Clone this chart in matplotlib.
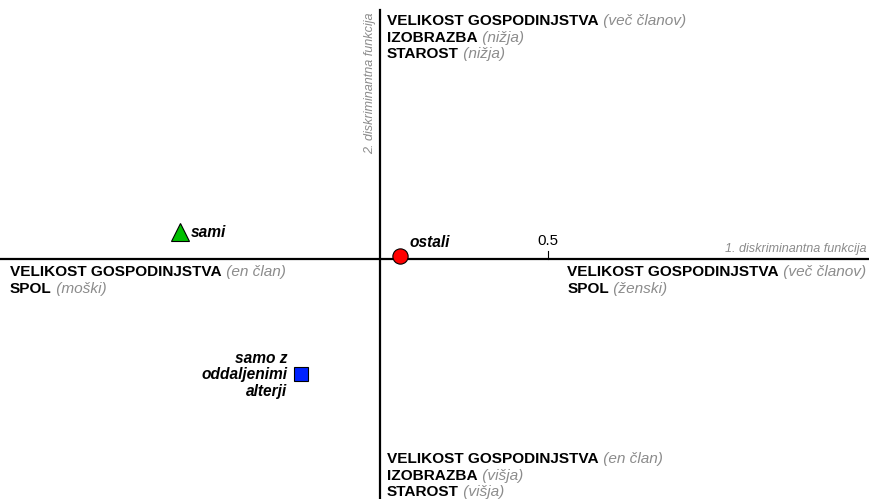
import matplotlib
matplotlib.use('Agg')
import matplotlib.pyplot as plt

plt.rcParams['font.family'] = ['Liberation Sans', 'DejaVu Sans']

# skupine in centroidi (1. in 2. diskriminantna funkcija)
skupine = ['sami', 'ostali', 'samo z\noddaljenimi\nalterji']
df1 = [-0.595, 0.06, -0.235]
df2 = [0.080, 0.009, -0.342]
markerji = ['^', 'o', 's']
barve = ['#00c000', '#ff0000', '#0022ff']

GRAY = '#8c8c8c'
FS = 11.1

fig = plt.figure(figsize=(8.69, 4.99), dpi=100)
ax = fig.add_axes([0, 0, 1, 1])
ax.set_xlim(-1.131, 1.455)
ax.set_ylim(-0.714, 0.771)
ax.axis('off')

# osi
ax.axhline(0, color='black', lw=1.6, zorder=1)
ax.plot([0, 0], [-0.714, 0.741], color='black', lw=1.6, zorder=1)
ax.plot([0.5, 0.5], [0, 0.024], color='black', lw=0.8)
ax.text(0.5, 0.034, '0.5', ha='center', va='bottom', fontsize=10.8)

ax.text(1.447, 0.011, '1. diskriminantna funkcija', ha='right', va='bottom',
        fontsize=9.1, style='italic', color=GRAY)
ax.text(-0.03, 0.735, '2. diskriminantna funkcija', ha='center', va='top',
        rotation=90, fontsize=9.1, style='italic', color=GRAY)


def vrstica(x, y, krepko, opomba):
    t = ax.text(x, y, krepko, fontsize=FS, fontweight='bold', ha='left', va='baseline')
    if opomba:
        ax.annotate(' ' + opomba, xy=(1, 0), xycoords=t, va='bottom', ha='left',
                    fontsize=FS, style='italic', color=GRAY)


def blok(x, y0, vrstice, korak=0.0495):
    for i, (k, o) in enumerate(vrstice):
        vrstica(x, y0 - i * korak, k, o)


blok(0.021, 0.696, [('VELIKOST GOSPODINJSTVA', '(več članov)'),
                    ('IZOBRAZBA', '(nižja)'),
                    ('STAROST', '(nižja)')])
blok(0.021, -0.607, [('VELIKOST GOSPODINJSTVA', '(en član)'),
                     ('IZOBRAZBA', '(višja)'),
                     ('STAROST', '(višja)')])
blok(-1.101, -0.050, [('VELIKOST GOSPODINJSTVA', '(en član)'),
                      ('SPOL', '(moški)')])
blok(0.557, -0.050, [('VELIKOST GOSPODINJSTVA', '(več članov)'),
                     ('SPOL', '(ženski)')])

# centroidi skupin
velikosti = [13.5, 11, 10]
for x, y, m, c, s in zip(df1, df2, markerji, barve, velikosti):
    ax.plot(x, y, marker=m, color=c, markeredgecolor='black', markeredgewidth=0.8,
            markersize=s, linestyle='none', zorder=3)

LFS = 11.2
ax.annotate(skupine[0], (df1[0], df2[0]), xytext=(11, 0), textcoords='offset pixels',
            ha='left', va='center', fontsize=LFS, fontweight='bold', style='italic')
ax.annotate(skupine[1], (df1[1], df2[1]), xytext=(9, 14), textcoords='offset pixels',
            ha='left', va='center', fontsize=LFS, fontweight='bold', style='italic')
ax.annotate(skupine[2], (df1[2], df2[2]), xytext=(-14, -1), textcoords='offset pixels',
            ha='right', va='center', multialignment='right', linespacing=1.1,
            fontsize=LFS, fontweight='bold', style='italic')

fig.savefig('out.png', dpi=100)
